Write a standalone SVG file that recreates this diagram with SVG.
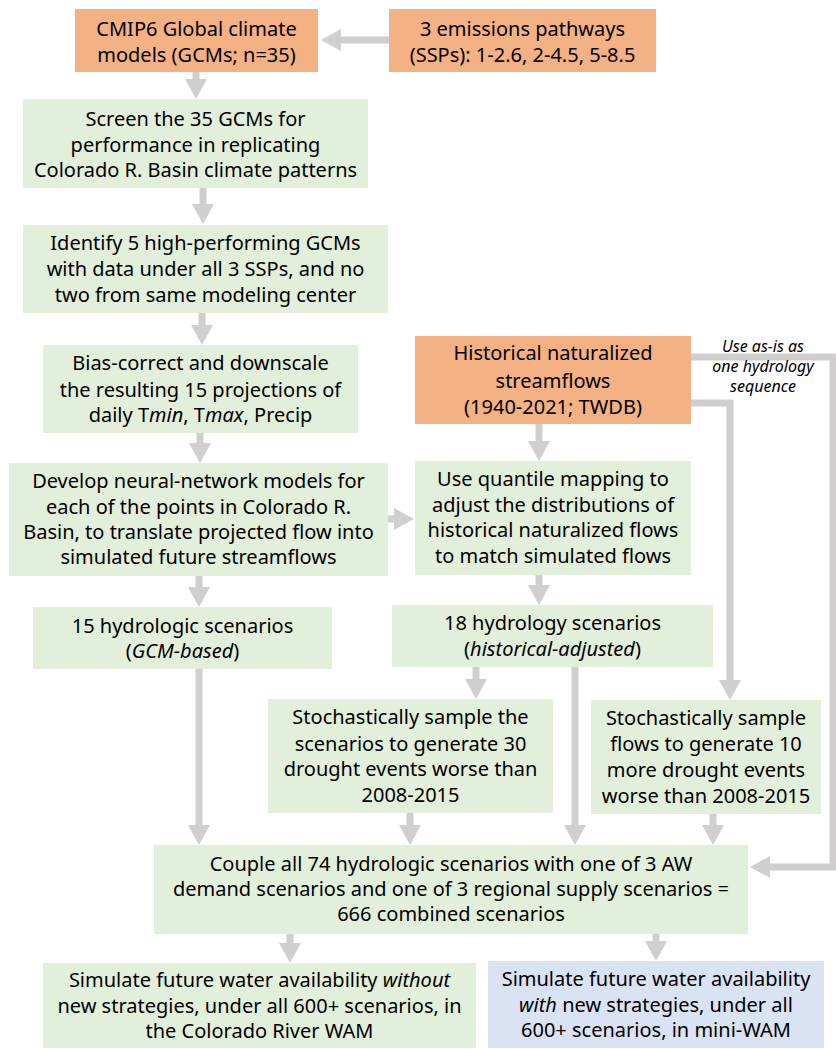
<svg xmlns="http://www.w3.org/2000/svg" width="836" height="1049" viewBox="0 0 836 1049">
<style>
.o{fill:#F4B183}
.g{fill:#E2EFDA}
.b{fill:#DAE3F3}
text{font-family:"Noto Sans","Open Sans","DejaVu Sans",sans-serif;font-size:20px;fill:#000;text-anchor:middle}
.i{font-style:italic}
.lbl{font-size:16px;font-style:italic}
.c{stroke:#D0CECE;stroke-width:7;fill:none}
.h{fill:#D0CECE}
</style>
<defs>
<marker id="ah" markerUnits="userSpaceOnUse" markerWidth="20" markerHeight="22" refX="2" refY="11" orient="auto" viewBox="0 0 20 22">
<path class="h" d="M0,0 L20,11 L0,22 z"/>
</marker>
</defs>
<rect width="836" height="1049" fill="#fff"/>
<g id="connectors">
<path class="c" d="M389,40 H339" marker-end="url(#ah)"/>
<path class="c" d="M196,72 V81" marker-end="url(#ah)"/>
<path class="c" d="M203,188 V206" marker-end="url(#ah)"/>
<path class="c" d="M202,313 V327" marker-end="url(#ah)"/>
<path class="c" d="M200,433 V445" marker-end="url(#ah)"/>
<path class="c" d="M539,424 V443" marker-end="url(#ah)"/>
<path class="c" d="M388,519 H396" marker-end="url(#ah)"/>
<path class="c" d="M199,576 V589" marker-end="url(#ah)"/>
<path class="c" d="M539,575 V587" marker-end="url(#ah)"/>
<path class="c" d="M199,669 V827" marker-end="url(#ah)"/>
<path class="c" d="M476,667 V681" marker-end="url(#ah)"/>
<path class="c" d="M575,667 V827" marker-end="url(#ah)"/>
<path class="c" d="M410,813 V827" marker-end="url(#ah)"/>
<path class="c" d="M713,814 V827" marker-end="url(#ah)"/>
<path class="c" d="M691,357 H833 V867 H768" marker-end="url(#ah)"/>
<path class="c" d="M691,403 H730 V682" marker-end="url(#ah)"/>
<path class="c" d="M290,934 V945" marker-end="url(#ah)"/>
<path class="c" d="M656,934 V943" marker-end="url(#ah)"/>
<text class="lbl" x="763" y="352">Use as-is as</text>
<text class="lbl" x="763" y="372">one hydrology</text>
<text class="lbl" x="763" y="392">sequence</text>
</g>
<g id="cmip6">
<rect class="o" x="75" y="9" width="243" height="63"/>
<text x="196.5" y="36">CMIP6 Global climate</text>
<text x="196.5" y="62">models (GCMs; n=35)</text>
</g>
<g id="ssps">
<rect class="o" x="389" y="9" width="267" height="63"/>
<text x="522.5" y="36">3 emissions pathways</text>
<text x="522.5" y="62">(SSPs): 1-2.6, 2-4.5, 5-8.5</text>
</g>
<g id="screen">
<rect class="g" x="23" y="99" width="345" height="89"/>
<text x="195.5" y="126">Screen the 35 GCMs for</text>
<text x="195.5" y="152">performance in replicating</text>
<text x="195.5" y="177">Colorado R. Basin climate patterns</text>
</g>
<g id="identify">
<rect class="g" x="23" y="225" width="365" height="88"/>
<text x="205.5" y="250">Identify 5 high-performing GCMs</text>
<text x="205.5" y="276">with data under all 3 SSPs, and no</text>
<text x="205.5" y="302">two from same modeling center</text>
</g>
<g id="bias">
<rect class="g" x="43" y="345" width="315" height="88"/>
<text x="200.5" y="370">Bias-correct and downscale</text>
<text x="200.5" y="397">the resulting 15 projections of</text>
<text x="200.5" y="422">daily T<tspan class="i">min</tspan>, T<tspan class="i">max</tspan>, Precip</text>
</g>
<g id="historical">
<rect class="o" x="415" y="336" width="276" height="88"/>
<text x="553" y="360">Historical naturalized</text>
<text x="553" y="388">streamflows</text>
<text x="553" y="414">(1940-2021; TWDB)</text>
</g>
<g id="develop">
<rect class="g" x="9" y="463" width="379" height="113"/>
<text x="198.5" y="488">Develop neural-network models for</text>
<text x="198.5" y="514">each of the points in Colorado R.</text>
<text x="198.5" y="539">Basin, to translate projected flow into</text>
<text x="198.5" y="564">simulated future streamflows</text>
</g>
<g id="quantile">
<rect class="g" x="415" y="461" width="276" height="114"/>
<text x="553" y="486">Use quantile mapping to</text>
<text x="553" y="512">adjust the distributions of</text>
<text x="553" y="537">historical naturalized flows</text>
<text x="553" y="563">to match simulated flows</text>
</g>
<g id="gcm-scenarios">
<rect class="g" x="33" y="607" width="299" height="62"/>
<text x="182.5" y="633">15 hydrologic scenarios</text>
<text x="182.5" y="658">(<tspan class="i">GCM-based</tspan>)</text>
</g>
<g id="hist-scenarios">
<rect class="g" x="392" y="605" width="321" height="62"/>
<text x="552.5" y="630">18 hydrology scenarios</text>
<text x="552.5" y="656">(<tspan class="i">historical-adjusted</tspan>)</text>
</g>
<g id="stoch1">
<rect class="g" x="268" y="699" width="285" height="114"/>
<text x="410.5" y="724">Stochastically sample the</text>
<text x="410.5" y="751">scenarios to generate 30</text>
<text x="410.5" y="776">drought events worse than</text>
<text x="410.5" y="802">2008-2015</text>
</g>
<g id="stoch2">
<rect class="g" x="591" y="700" width="230" height="114"/>
<text x="706" y="725">Stochastically sample</text>
<text x="706" y="751">flows to generate 10</text>
<text x="706" y="777">more drought events</text>
<text x="706" y="803">worse than 2008-2015</text>
</g>
<g id="couple">
<rect class="g" x="154" y="845" width="594" height="89"/>
<text x="451" y="871">Couple all 74 hydrologic scenarios with one of 3 AW</text>
<text x="451" y="896">demand scenarios and one of 3 regional supply scenarios =</text>
<text x="451" y="921">666 combined scenarios</text>
</g>
<g id="sim-without">
<rect class="g" x="43" y="963" width="433" height="85"/>
<text x="259.5" y="987">Simulate future water availability <tspan class="i">without</tspan></text>
<text x="259.5" y="1013">new strategies, under all 600+ scenarios, in</text>
<text x="259.5" y="1038">the Colorado River WAM</text>
</g>
<g id="sim-with">
<rect class="b" x="488" y="961" width="336" height="87"/>
<text x="656" y="986">Simulate future water availability</text>
<text x="656" y="1012"><tspan class="i">with</tspan> new strategies, under all</text>
<text x="656" y="1037">600+ scenarios, in mini-WAM</text>
</g>
</svg>
